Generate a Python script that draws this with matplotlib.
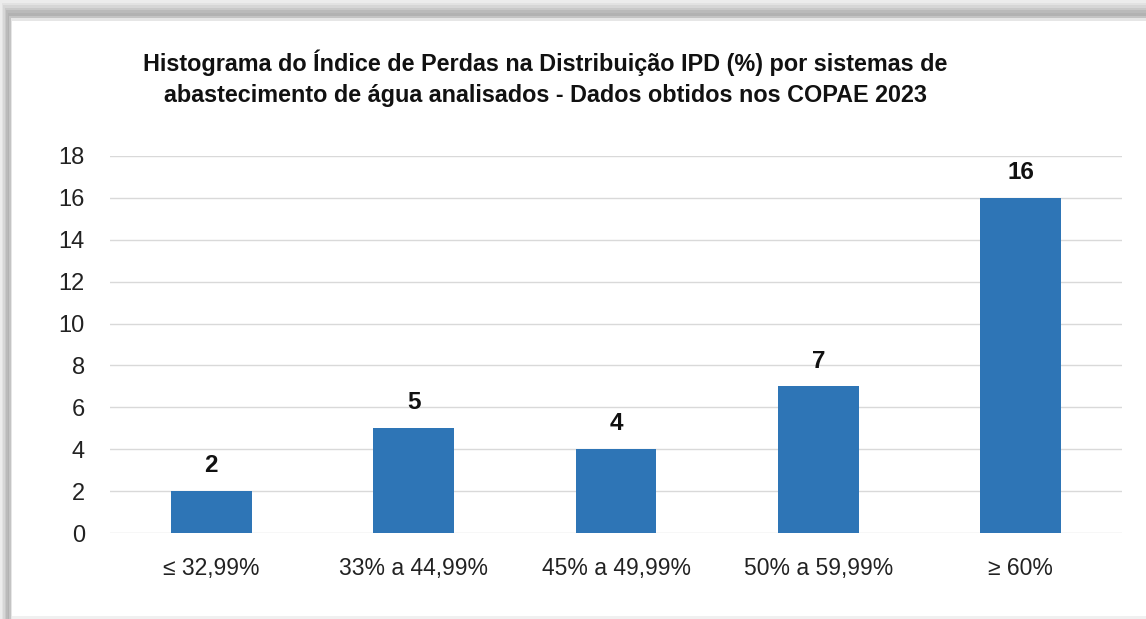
import matplotlib
matplotlib.use("Agg")
import matplotlib.pyplot as plt
from matplotlib.patches import Rectangle

categories = ["≤ 32,99%", "33% a 44,99%", "45% a 49,99%", "50% a 59,99%", "≥ 60%"]
values = [2, 5, 4, 7, 16]
yticks = [0, 2, 4, 6, 8, 10, 12, 14, 16, 18]
title = ("Histograma do Índice de Perdas na Distribuição IPD (%) por sistemas de\n"
         "abastecimento de água analisados - Dados obtidos nos COPAE 2023")

plt.rcParams['font.family'] = ['Liberation Sans Narrow', 'Liberation Sans', 'DejaVu Sans']

W, H = 1146, 619
fig = plt.figure(figsize=(W / 100, H / 100), dpi=100)
fig.patch.set_facecolor("white")

# frame shadow (top and left gradient bands)
shades = ["#ececec", "#e2e2e2", "#d6d6d6", "#c8c8c8", "#bababa", "#b2b2b2", "#c4c4c4", "#e6e6e6"]
for i, c in enumerate(shades):
    fig.patches.append(Rectangle((i * 1.5 / W, 1 - (i + 1) * 2.6 / H), 1 - i * 1.5 / W, 2.6 / H,
                                 transform=fig.transFigure, facecolor=c, edgecolor="none", zorder=0))
    fig.patches.append(Rectangle((i * 1.5 / W, 0), 1.5 / W, 1 - i * 2.6 / H,
                                 transform=fig.transFigure, facecolor=c, edgecolor="none", zorder=0))
fig.patches.append(Rectangle((12 / W, 0), 1 - 12 / W, 3 / H, transform=fig.transFigure,
                             facecolor="#f0f0f0", edgecolor="none", zorder=0))

ax = fig.add_axes([110 / W, 1 - 533 / H, (1122 - 110) / W, (533 - 156) / H])
ax.set_facecolor("none")
x = range(len(categories))
bars = ax.bar(x, values, width=0.4, color="#2e75b6", zorder=3)
ax.set_xlim(-0.5, len(categories) - 0.5)
ax.set_ylim(0, 18)
ax.set_yticks(yticks)
ax.set_yticklabels([str(t) for t in yticks], fontsize=17)
ax.set_xticks(list(x))
ax.set_xticklabels(categories, fontsize=16.5)
ax.tick_params(axis="both", length=0, colors="#222222")
ax.tick_params(axis="y", pad=18)
ax.tick_params(axis="x", pad=17)
ax.grid(axis="y", color="#d9d9d9", linewidth=1.0, zorder=0)
for s in ax.spines.values():
    s.set_visible(False)

for b, v in zip(bars, values):
    ax.annotate(str(v), (b.get_x() + b.get_width() / 2, v), xytext=(0, 10),
                textcoords="offset points", ha="center", va="bottom",
                fontsize=17.5, fontweight="bold", color="#111111")

fig.text(545 / W, 1 - 78 / H, title, ha="center", va="center", fontsize=16.8,
         fontweight="bold", color="#111111", linespacing=1.45)

fig.savefig("out.png", dpi=100)
